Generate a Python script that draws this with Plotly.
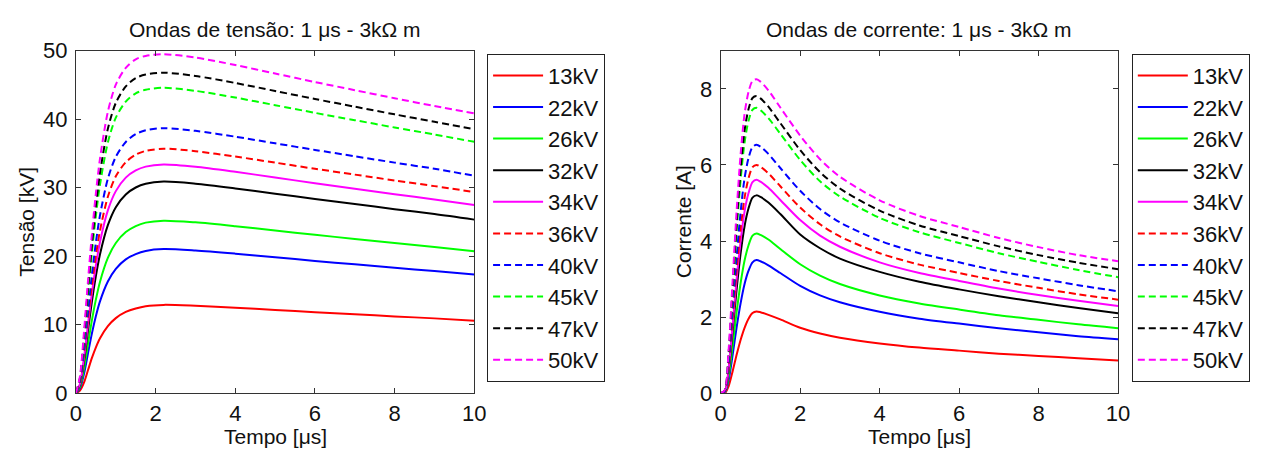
import plotly.graph_objects as go

# Time grids (µs)
t_tensao = [0, 0.1, 0.2, 0.3, 0.4, 0.5, 0.6, 0.8, 1.0, 1.25, 1.5, 1.75, 2.2, 3, 4, 5, 6, 7, 8, 9, 10]
t_corrente = [0, 0.1, 0.2, 0.3, 0.4, 0.5, 0.6, 0.7, 0.8, 0.9, 1.0, 1.2, 1.5, 2.0, 2.5, 3, 4, 5, 6, 7, 8, 9, 10]

niveis = ["13kV", "22kV", "26kV", "32kV", "34kV", "36kV", "40kV", "45kV", "47kV", "50kV"]
cores = ["#ff0000", "#0000ff", "#00ff00", "#000000", "#ff00ff",
         "#ff0000", "#0000ff", "#00ff00", "#000000", "#ff00ff"]
tracos = ["solid"] * 5 + ["7px,4px"] * 5

# Voltage waves [kV]
v_13 = [0, 0.39, 1.55, 3.35, 5.16, 6.71, 8.00, 9.80, 10.97, 11.87, 12.38, 12.71, 12.9, 12.77, 12.49, 12.16, 11.84, 11.53, 11.22, 10.93, 10.58]
v_22 = [0, 0.72, 2.80, 5.80, 8.74, 11.27, 13.38, 16.32, 18.17, 19.55, 20.32, 20.78, 21.05, 20.84, 20.38, 19.85, 19.32, 18.82, 18.31, 17.83, 17.35]
v_26 = [0, 0.93, 3.54, 7.15, 10.68, 13.70, 16.22, 19.75, 21.93, 23.53, 24.41, 24.91, 25.2, 24.95, 24.39, 23.76, 23.13, 22.53, 21.92, 21.34, 20.72]
v_32 = [0, 1.23, 4.62, 9.09, 13.42, 17.13, 20.22, 24.54, 27.17, 29.03, 30.04, 30.59, 30.9, 30.59, 29.91, 29.14, 28.37, 27.62, 26.88, 26.17, 25.35]
v_34 = [0, 1.38, 5.13, 9.99, 14.67, 18.68, 22.02, 26.69, 29.51, 31.48, 32.53, 33.09, 33.4, 33.07, 32.33, 31.50, 30.66, 29.86, 29.06, 28.29, 27.49]
v_36 = [0, 1.51, 5.61, 10.83, 15.83, 20.11, 23.68, 28.68, 31.67, 33.73, 34.83, 35.39, 35.7, 35.34, 34.56, 33.67, 32.77, 31.92, 31.06, 30.24, 29.38]
v_40 = [0, 1.70, 6.27, 11.96, 17.38, 22.02, 25.89, 31.31, 34.52, 36.69, 37.83, 38.39, 38.7, 38.31, 37.46, 36.49, 35.53, 34.60, 33.67, 32.78, 31.75]
v_45 = [0, 2.11, 7.68, 14.31, 20.56, 25.91, 30.37, 36.61, 40.24, 42.58, 43.79, 44.32, 44.6, 44.15, 43.17, 42.06, 40.94, 39.87, 38.80, 37.78, 36.71]
v_47 = [0, 2.27, 8.23, 15.21, 21.77, 27.38, 32.06, 38.61, 42.39, 44.80, 46.02, 46.53, 46.8, 46.33, 45.30, 44.13, 42.96, 41.84, 40.72, 39.64, 38.55]
v_50 = [0, 2.48, 8.91, 16.34, 23.27, 29.21, 34.16, 41.09, 45.05, 47.52, 48.76, 49.25, 49.5, 49.01, 47.92, 46.68, 45.44, 44.25, 43.07, 41.93, 40.85]

# Current waves [A]
i_13 = [0, 0, 0.19, 0.58, 1.01, 1.40, 1.72, 1.96, 2.11, 2.15, 2.13, 2.06, 1.94, 1.72, 1.57, 1.46, 1.31, 1.20, 1.12, 1.04, 0.98, 0.92, 0.86]
i_22 = [0, 0.01, 0.35, 1.01, 1.73, 2.36, 2.87, 3.22, 3.44, 3.50, 3.47, 3.36, 3.16, 2.82, 2.57, 2.39, 2.14, 1.96, 1.83, 1.71, 1.60, 1.50, 1.42]
i_26 = [0, 0.01, 0.45, 1.26, 2.13, 2.89, 3.49, 3.89, 4.14, 4.20, 4.16, 4.04, 3.79, 3.39, 3.09, 2.87, 2.57, 2.36, 2.20, 2.05, 1.93, 1.81, 1.71]
i_32 = [0, 0.03, 0.60, 1.64, 2.73, 3.67, 4.39, 4.86, 5.14, 5.20, 5.16, 5.01, 4.71, 4.17, 3.81, 3.54, 3.19, 2.93, 2.73, 2.55, 2.39, 2.24, 2.10]
i_34 = [0, 0.03, 0.66, 1.80, 2.99, 4.00, 4.78, 5.26, 5.55, 5.61, 5.56, 5.40, 5.08, 4.55, 4.14, 3.85, 3.44, 3.16, 2.95, 2.75, 2.58, 2.43, 2.29]
i_36 = [0, 0.04, 0.73, 1.96, 3.24, 4.32, 5.14, 5.65, 5.94, 6.00, 5.95, 5.78, 5.44, 4.88, 4.44, 4.12, 3.68, 3.38, 3.16, 2.95, 2.77, 2.60, 2.46]
i_40 = [0, 0.05, 0.82, 2.19, 3.59, 4.76, 5.65, 6.18, 6.47, 6.53, 6.48, 6.29, 5.92, 5.32, 4.84, 4.49, 4.01, 3.68, 3.44, 3.21, 3.02, 2.84, 2.68]
i_45 = [0, 0.07, 1.01, 2.62, 4.25, 5.60, 6.59, 7.16, 7.45, 7.50, 7.44, 7.23, 6.82, 6.13, 5.57, 5.17, 4.61, 4.23, 3.95, 3.68, 3.45, 3.24, 3.05]
i_47 = [0, 0.07, 1.07, 2.76, 4.47, 5.88, 6.90, 7.47, 7.76, 7.81, 7.75, 7.53, 7.10, 6.39, 5.81, 5.38, 4.80, 4.41, 4.13, 3.86, 3.63, 3.43, 3.26]
i_50 = [0, 0.08, 1.16, 2.97, 4.79, 6.27, 7.34, 7.92, 8.21, 8.25, 8.19, 7.96, 7.51, 6.77, 6.15, 5.69, 5.07, 4.66, 4.37, 4.08, 3.84, 3.63, 3.47]

tensoes = [v_13, v_22, v_26, v_32, v_34, v_36, v_40, v_45, v_47, v_50]
correntes = [i_13, i_22, i_26, i_32, i_34, i_36, i_40, i_45, i_47, i_50]

FONTE = "Liberation Sans, Arial, Helvetica, sans-serif"
W, H = 1270, 463

fig = go.Figure()

for nome, cor, traco, v in zip(niveis, cores, tracos, tensoes):
    fig.add_trace(go.Scatter(
        x=t_tensao, y=v, mode="lines", name=nome,
        line=dict(color=cor, width=2, dash=traco, shape="spline", smoothing=0.8),
        xaxis="x", yaxis="y", legend="legend",
    ))

for nome, cor, traco, c in zip(niveis, cores, tracos, correntes):
    fig.add_trace(go.Scatter(
        x=t_corrente, y=c, mode="lines", name=nome,
        line=dict(color=cor, width=2, dash=traco, shape="spline", smoothing=0.8),
        xaxis="x2", yaxis="y2", legend="legend2",
    ))

eixo = dict(
    showline=True, linecolor="#333333", linewidth=1, mirror="allticks",
    ticks="inside", ticklen=5, tickcolor="#333333",
    showgrid=False, zeroline=False,
    tickfont=dict(family=FONTE, size=22, color="#111111"),
    fixedrange=True,
)
eixo_x = dict(eixo, range=[0, 10], tickvals=[0, 2, 4, 6, 8, 10])
eixo_y = dict(eixo, ticklabelstandoff=3)

legenda = dict(
    y=(H - 44) / H, xanchor="left", yanchor="top",
    bordercolor="#222222", borderwidth=1, bgcolor="white",
    font=dict(family=FONTE, size=22, color="#111111"),
    itemwidth=50, tracegroupgap=0,
)

fig.update_layout(
    width=W, height=H,
    margin=dict(l=0, r=0, t=0, b=0),
    paper_bgcolor="white", plot_bgcolor="white",
    font=dict(family=FONTE, color="#111111"),
    xaxis=dict(eixo_x, domain=[71 / W, 475 / W], anchor="y"),
    yaxis=dict(eixo_y, domain=[60 / H, 422 / H], range=[0, 50], tickvals=[0, 10, 20, 30, 40, 50], anchor="x"),
    xaxis2=dict(eixo_x, domain=[725 / W, 1128 / W], anchor="y2"),
    yaxis2=dict(eixo_y, domain=[60 / H, 422 / H], range=[0, 9], tickvals=[0, 2, 4, 6, 8], anchor="x2"),
    legend=dict(legenda, x=488 / W),
    legend2=dict(legenda, x=1142 / W),
    showlegend=True,
)

def rotulo(texto, x, y, tamanho, angulo=0):
    fig.add_annotation(
        text=texto, x=x / W, y=(H - y) / H, xref="paper", yref="paper",
        xanchor="center", yanchor="middle", showarrow=False, textangle=angulo,
        font=dict(family=FONTE, size=tamanho, color="#111111"),
    )

rotulo("Ondas de tensão: 1 μs - 3kΩ m", 273, 18, 21)
rotulo("Ondas de corrente: 1 μs - 3kΩ m", 926.5, 18, 21)
rotulo("Tempo [μs]", 273, 449, 21)
rotulo("Tempo [μs]", 926.5, 449, 21)
rotulo("Tensão [kV]", 20, 222, 21, -90)
rotulo("Corrente [A]", 687, 222, 21, -90)

fig.write_html("out.html")
